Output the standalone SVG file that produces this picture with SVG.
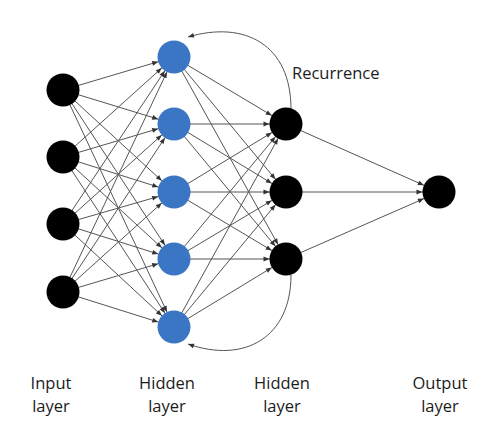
<svg xmlns="http://www.w3.org/2000/svg" width="496" height="432" viewBox="0 0 496 432">
<defs>
<marker id="ah" markerUnits="userSpaceOnUse" markerWidth="1" markerHeight="1" refX="0" refY="0" orient="auto" overflow="visible"><path d="M-16.5,0 L-22.5,-2.4 L-22.5,2.4 z" fill="#333"/></marker>
<marker id="ah0" markerUnits="userSpaceOnUse" markerWidth="1" markerHeight="1" refX="0" refY="0" orient="auto" overflow="visible"><path d="M0,0 L-6,-2.4 L-6,2.4 z" fill="#333"/></marker>
</defs>
<style>
.e{stroke:#555;stroke-width:1;fill:none;marker-end:url(#ah)}
.r{stroke:#555;stroke-width:1;fill:none;marker-end:url(#ah0)}
.k{fill:#000}
.b{fill:#3b76c4}
text{font-family:"Open Sans","Liberation Sans",sans-serif;font-size:16.5px;fill:#1c1c1c}
.c{text-anchor:middle}
</style>
<rect width="496" height="432" fill="#fff"/>
<g id="connectors">
<line class="e" x1="63" y1="90" x2="174" y2="57"/><line class="e" x1="63" y1="90" x2="174" y2="124"/><line class="e" x1="63" y1="90" x2="174" y2="192"/><line class="e" x1="63" y1="90" x2="174" y2="259"/><line class="e" x1="63" y1="90" x2="174" y2="327"/>
<line class="e" x1="63" y1="157" x2="174" y2="57"/><line class="e" x1="63" y1="157" x2="174" y2="124"/><line class="e" x1="63" y1="157" x2="174" y2="192"/><line class="e" x1="63" y1="157" x2="174" y2="259"/><line class="e" x1="63" y1="157" x2="174" y2="327"/>
<line class="e" x1="63" y1="224" x2="174" y2="57"/><line class="e" x1="63" y1="224" x2="174" y2="124"/><line class="e" x1="63" y1="224" x2="174" y2="192"/><line class="e" x1="63" y1="224" x2="174" y2="259"/><line class="e" x1="63" y1="224" x2="174" y2="327"/>
<line class="e" x1="63" y1="292" x2="174" y2="57"/><line class="e" x1="63" y1="292" x2="174" y2="124"/><line class="e" x1="63" y1="292" x2="174" y2="192"/><line class="e" x1="63" y1="292" x2="174" y2="259"/><line class="e" x1="63" y1="292" x2="174" y2="327"/>
<line class="e" x1="174" y1="57" x2="286" y2="124"/><line class="e" x1="174" y1="57" x2="286" y2="192"/><line class="e" x1="174" y1="57" x2="286" y2="259"/>
<line class="e" x1="174" y1="124" x2="286" y2="124"/><line class="e" x1="174" y1="124" x2="286" y2="192"/><line class="e" x1="174" y1="124" x2="286" y2="259"/>
<line class="e" x1="174" y1="192" x2="286" y2="124"/><line class="e" x1="174" y1="192" x2="286" y2="192"/><line class="e" x1="174" y1="192" x2="286" y2="259"/>
<line class="e" x1="174" y1="259" x2="286" y2="124"/><line class="e" x1="174" y1="259" x2="286" y2="192"/><line class="e" x1="174" y1="259" x2="286" y2="259"/>
<line class="e" x1="174" y1="327" x2="286" y2="124"/><line class="e" x1="174" y1="327" x2="286" y2="192"/><line class="e" x1="174" y1="327" x2="286" y2="259"/>
<line class="e" x1="286" y1="124" x2="439" y2="192"/><line class="e" x1="286" y1="192" x2="439" y2="192"/><line class="e" x1="286" y1="259" x2="439" y2="192"/>
<path class="r" d="M291,109 C291,45 245,20 188,37"/>
<path class="r" d="M291,275 C291,337 245,364 188,344"/>
</g>
<g id="input-layer">
<circle class="k" cx="63" cy="90" r="16.5"/><circle class="k" cx="63" cy="157" r="16.5"/><circle class="k" cx="63" cy="224" r="16.5"/><circle class="k" cx="63" cy="292" r="16.5"/>
</g>
<g id="hidden-layer-1">
<circle class="b" cx="174" cy="57" r="16.5"/><circle class="b" cx="174" cy="124" r="16.5"/><circle class="b" cx="174" cy="192" r="16.5"/><circle class="b" cx="174" cy="259" r="16.5"/><circle class="b" cx="174" cy="327" r="16.5"/>
</g>
<g id="hidden-layer-2">
<circle class="k" cx="286" cy="124" r="16.5"/><circle class="k" cx="286" cy="192" r="16.5"/><circle class="k" cx="286" cy="259" r="16.5"/>
</g>
<g id="output-layer">
<circle class="k" cx="439" cy="192" r="16.5"/>
</g>
<g id="labels">
<text x="292" y="79">Recurrence</text>
<text class="c" x="51" y="389">Input</text><text class="c" x="51" y="412">layer</text>
<text class="c" x="167" y="389">Hidden</text><text class="c" x="167" y="412">layer</text>
<text class="c" x="282" y="389">Hidden</text><text class="c" x="282" y="412">layer</text>
<text class="c" x="440" y="389">Output</text><text class="c" x="440" y="412">layer</text>
</g>
</svg>
